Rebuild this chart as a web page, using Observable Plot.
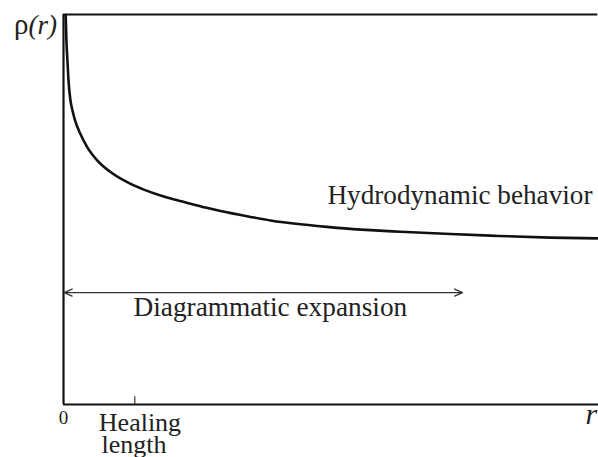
<!DOCTYPE html>
<html>
<head>
<meta charset="utf-8">
<script src="https://cdn.jsdelivr.net/npm/d3@7"></script>
<script src="https://cdn.jsdelivr.net/npm/@observablehq/plot@0.6"></script>
<style>
  html, body { margin: 0; padding: 0; background: #fff; }
  #chart svg { display: block; }
</style>
</head>
<body>
<div id="chart"></div>
<script>
// Density profile rho(r) (r in healing lengths, rho normalised to the frame)
const rValues   = [0.031, 0.041, 0.055, 0.070, 0.098, 0.126, 0.163, 0.236, 0.332, 0.472, 0.659, 0.893, 1.126, 1.360, 1.570, 1.780, 1.991, 2.201, 2.622, 2.902, 3.322, 3.837, 4.304, 4.724, 5.425, 5.986, 6.827, 7.486];
const rhoValues = [0.997, 0.933, 0.882, 0.831, 0.779, 0.754, 0.728, 0.694, 0.660, 0.626, 0.596, 0.570, 0.551, 0.536, 0.525, 0.515, 0.505, 0.496, 0.481, 0.472, 0.462, 0.453, 0.447, 0.443, 0.437, 0.433, 0.428, 0.426];

// Diagrammatic-expansion range (double arrow)
const arrowStart = 0.01;
const arrowEnd = 5.594;
const arrowRho = 0.287;

// Healing-length tick
const healingLength = 1;

// Annotation labels (positions in data units)
const hydroLabel = {t: "Hydrodynamic behavior", r: 3.70, rho: 0.515};
const diagLabel  = {t: "Diagrammatic expansion", r: 2.90, rho: 0.226};
const healLabels = [
  {t: "Healing", r: 1.072, rho: -0.0667},
  {t: "length",  r: 0.988, rho: -0.124}
];

const curve = rValues.map((r, i) => ({r, rho: rhoValues[i]}));
const mid = (arrowStart + arrowEnd) / 2;
const arrows = [
  {r1: mid, r2: arrowStart, rho: arrowRho},
  {r1: mid, r2: arrowEnd, rho: arrowRho}
];

const serif = "'Liberation Serif', 'Times New Roman', serif";

const chart = Plot.plot({
  width: 598,
  height: 457,
  marginLeft: 63,
  marginRight: 0,
  marginTop: 14,
  marginBottom: 53,
  style: {fontFamily: serif, background: "#fff", overflow: "visible"},
  x: {domain: [0, 7.5], axis: null},
  y: {domain: [0, 1], axis: null},
  marks: [
    // frame (left, top, bottom)
    Plot.ruleX([0], {stroke: "#111", strokeWidth: 2.2}),
    Plot.ruleY([1], {stroke: "#111", strokeWidth: 2.2, x1: 0, x2: 7.49}),
    Plot.ruleY([0], {stroke: "#111", strokeWidth: 2.2}),
    // healing-length tick
    Plot.ruleX([healingLength], {y1: 0, y2: 0.02, stroke: "#111", strokeWidth: 1}),
    // density curve
    Plot.line(curve, {x: "r", y: "rho", curve: "monotone-x", stroke: "#111", strokeWidth: 2.6}),
    // double arrow
    Plot.arrow(arrows, {x1: "r1", x2: "r2", y1: "rho", y2: "rho", stroke: "#333", strokeWidth: 1.3, headLength: 10, headAngle: 48}),
    // labels
    Plot.text([hydroLabel], {x: "r", y: "rho", text: "t", textAnchor: "start", lineAnchor: "bottom", fontSize: 27.2, fill: "#222"}),
    Plot.text([diagLabel], {x: "r", y: "rho", text: "t", textAnchor: "middle", lineAnchor: "bottom", fontSize: 27.3, fill: "#222"}),
    Plot.text(healLabels, {x: "r", y: "rho", text: "t", textAnchor: "middle", lineAnchor: "bottom", fontSize: 26, fill: "#222"}),
    Plot.text(["0"], {x: () => 0, y: () => -0.049, lineAnchor: "bottom", fontSize: 19, fill: "#222"}),
    Plot.text(["r"], {x: () => 7.48, y: () => -0.049, textAnchor: "end", lineAnchor: "bottom", fontSize: 30, fontStyle: "italic", fill: "#222"}),
    Plot.text(["ρ"], {x: () => -0.49, y: () => 0.951, textAnchor: "end", lineAnchor: "bottom", fontSize: 29, fill: "#222"}),
    Plot.text(["(r)"], {x: () => -0.49, y: () => 0.951, textAnchor: "start", lineAnchor: "bottom", fontSize: 27, fontStyle: "italic", fill: "#222"})
  ]
});
document.getElementById("chart").appendChild(chart);
</script>
</body>
</html>
